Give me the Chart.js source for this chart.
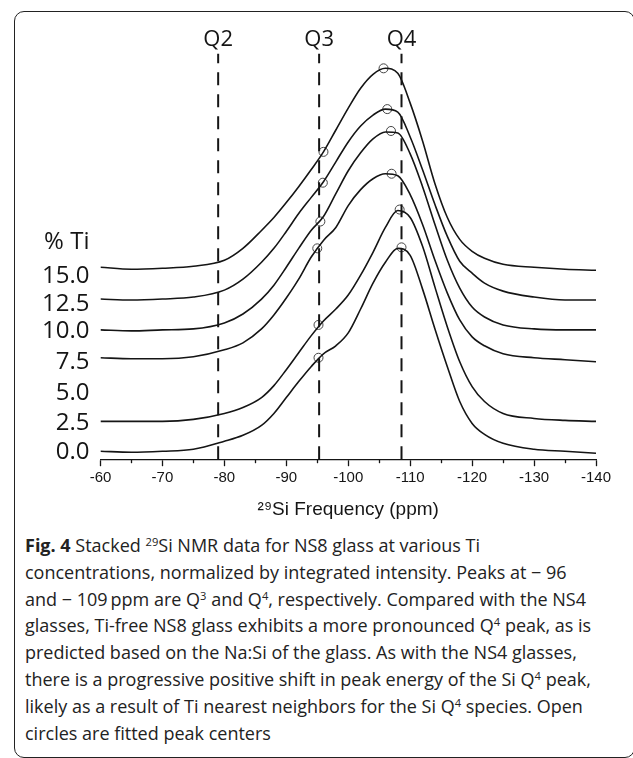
<!DOCTYPE html>
<html>
<head>
<meta charset="utf-8">
<script src="https://cdn.jsdelivr.net/npm/chart.js@4.4.1/dist/chart.umd.min.js"></script>
<style>
  html, body { margin: 0; padding: 0; background: #fff; }
  body { width: 633px; height: 758px; position: relative; overflow: hidden; }
  #frame {
    position: absolute; left: 14px; top: 11px; width: 621px; height: 747px;
    border: 1.5px solid #222; border-radius: 10px; box-sizing: border-box;
  }
  #chart { position: absolute; left: 0; top: 0; }
  #caption {
    position: absolute; left: 25px; top: 532px; width: 600px;
    font-family: "Open Sans", sans-serif; font-size: 18px; line-height: 26.8px;
    color: #222; white-space: nowrap;
  }
  #caption sup { font-size: 0.62em; line-height: 0; vertical-align: 0.55em; }
</style>
</head>
<body>
<div id="frame"></div>
<canvas id="chart" width="633" height="530"></canvas>
<div id="caption">
  <b>Fig. 4</b> Stacked <sup>29</sup>Si NMR data for NS8 glass at various Ti<br>
  concentrations, normalized by integrated intensity. Peaks at &minus; 96<br>
  and &minus; 109&#8201;ppm are Q<sup>3</sup> and Q<sup>4</sup>, respectively. Compared with the NS4<br>
  glasses, Ti-free NS8 glass exhibits a more pronounced Q<sup>4</sup> peak, as is<br>
  predicted based on the Na:Si of the glass. As with the NS4 glasses,<br>
  there is a progressive positive shift in peak energy of the Si Q<sup>4</sup> peak,<br>
  likely as a result of Ti nearest neighbors for the Si Q<sup>4</sup> species. Open<br>
  circles are fitted peak centers
</div>
<script>
// chemical shift grid (ppm) the traces were read on
const ppm = [-60, -65, -70, -75, -80, -83, -86, -88, -90, -92, -94, -96, -98, -100, -102,
             -104, -106, -108, -110, -112, -114, -116, -118, -120, -122, -125, -130, -135, -140];

// intensity of each trace above its own baseline (a.u.)
const ti0  = [0, -1, 0, 2, 10, 16, 26, 38, 54, 70, 85, 98, 106, 119, 143, 169, 190, 204, 197, 163, 123, 85, 50, 28, 17, 8, 2, 0, -2];
const ti25 = [0, 0, 0, 2, 8, 14, 24, 36, 52, 69, 86, 101, 113, 127, 147, 170, 195, 212, 205, 176, 135, 95, 60, 35, 20, 8, 3, 1, 0];
const ti75 = [0, -1, -1, 1, 8, 15, 29, 43, 60, 79, 101, 118, 131, 153, 169, 180, 185, 183, 164, 134, 98, 65, 38, 21, 12, 4, 0, -2, -4];
const ti10 = [0, -1, 0, 1, 7, 16, 31, 45, 63, 82, 100, 114, 137, 160, 178, 192, 199, 198, 177, 144, 106, 70, 42, 23, 13, 5, 1, 0, 0];
const ti125 = [0, -1, 0, 2, 9, 20, 37, 51, 68, 86, 102, 118, 138, 158, 174, 185, 191, 188, 163, 130, 95, 63, 38, 26, 16, 8, 2, -1, -1];
const ti15 = [0, -2, -1, 1, 7, 19, 37, 50, 65, 81, 98, 116, 138, 160, 180, 194, 200, 195, 165, 127, 84, 50, 28, 16, 9, 3, 0, -2, -3];

const traces = [ti0, ti25, ti75, ti10, ti125, ti15];
// vertical stacking offset of each trace (a.u.)
const offsets = [8, 38, 102, 130, 161, 193];

// fitted peak centres (ppm) and their heights above baseline
const q3Centers = [-95.2, -95.2, -95.0, -95.5, -95.9, -96.0];
const q3Heights = [94, 97, 110, 109, 117, 116];
const q4Centers = [-108.6, -108.3, -107.0, -106.9, -106.3, -105.7];
const q4Heights = [205, 213, 185, 200, 191, 200];

// reference lines
const qNames = ['Q2', 'Q3', 'Q4'];
const qLines = [-79, -95.3, -108.6];

// % Ti labels on the left and the levels they sit at
const tiLabels = ['0.0', '2.5', '5.0', '7.5', '10.0', '12.5', '15.0', '% Ti'];
const tiLevels = [7, 36, 66, 98, 129, 156, 184, 218];

const xTicks = [-60, -70, -80, -90, -100, -110, -120, -130, -140];

const ink = '#151515';
const yMax = 408;

const datasets = [];

qLines.forEach(q => {
    datasets.push({
        data: [{ x: q, y: 0 }, { x: q, y: yMax }],
        borderColor: ink, borderWidth: 2, borderDash: [13, 9],
        pointRadius: 0, showLine: true, fill: false
    });
});

traces.forEach((t, i) => {
    datasets.push({
        data: t.map((v, j) => ({ x: ppm[j], y: v + offsets[i] })),
        borderColor: ink, borderWidth: 1.6,
        pointRadius: 0, showLine: true, fill: false,
        cubicInterpolationMode: 'monotone'
    });
});

const centers = [];
offsets.forEach((o, i) => {
    centers.push({ x: q3Centers[i], y: q3Heights[i] + o });
    centers.push({ x: q4Centers[i], y: q4Heights[i] + o });
});
datasets.push({
    data: centers, showLine: false,
    pointStyle: 'circle', pointRadius: 4.5, pointBorderWidth: 1,
    pointBorderColor: '#444', pointBackgroundColor: 'rgba(0,0,0,0)'
});

// short ticks at the odd 5 ppm marks
const minorTicks = {
    id: 'minorTicks',
    afterDraw(chart) {
        const sx = chart.scales.x;
        const ctx = chart.ctx;
        const y0 = chart.chartArea.bottom;
        ctx.save();
        ctx.strokeStyle = ink;
        ctx.lineWidth = 1.3;
        for (let v = -65; v >= -135; v -= 10) {
            const px = Math.round(sx.getPixelForValue(v)) + 0.5;
            ctx.beginPath();
            ctx.moveTo(px, y0);
            ctx.lineTo(px, y0 + 4);
            ctx.stroke();
        }
        ctx.restore();
    }
};

new Chart(document.getElementById('chart'), {
    type: 'scatter',
    data: { datasets: datasets },
    plugins: [minorTicks],
    options: {
        responsive: false,
        animation: false,
        devicePixelRatio: 1,
        layout: { padding: { left: 31, right: 37, top: 27, bottom: 5 } },
        plugins: { legend: { display: false }, tooltip: { enabled: false } },
        scales: {
            x: {
                type: 'linear', position: 'bottom', min: -140, max: -60, reverse: true,
                afterBuildTicks: axis => { axis.ticks = xTicks.map(v => ({ value: v })); },
                grid: { display: true, drawOnChartArea: false, tickLength: 7, tickColor: ink, tickWidth: 1.3 },
                border: { display: true, color: ink, width: 1.3 },
                ticks: {
                    color: ink, padding: 3, maxRotation: 0, autoSkip: false,
                    font: { family: '"Liberation Sans", Arial, sans-serif', size: 15 }
                },
                title: {
                    display: true, text: '²⁹Si Frequency (ppm)', color: ink,
                    padding: { top: 8, bottom: 4 },
                    font: { family: '"Liberation Sans", Arial, sans-serif', size: 19 }
                }
            },
            xq: {
                type: 'linear', position: 'top', min: -140, max: -60, reverse: true,
                afterBuildTicks: axis => { axis.ticks = qLines.map(v => ({ value: v })); },
                grid: { display: false, drawTicks: false },
                border: { display: false },
                ticks: {
                    color: ink, padding: 0, maxRotation: 0, autoSkip: false,
                    font: { family: '"Open Sans", sans-serif', size: 22 },
                    callback: (v, i) => qNames[i]
                }
            },
            y: {
                type: 'linear', min: 0, max: yMax,
                afterBuildTicks: axis => { axis.ticks = tiLevels.map(v => ({ value: v })); },
                grid: { display: false, drawTicks: false },
                border: { display: false },
                ticks: {
                    color: ink, padding: 11, autoSkip: false,
                    font: { family: '"Open Sans", sans-serif', size: 24 },
                    callback: (v, i) => tiLabels[i]
                }
            }
        }
    }
});
</script>
</body>
</html>
